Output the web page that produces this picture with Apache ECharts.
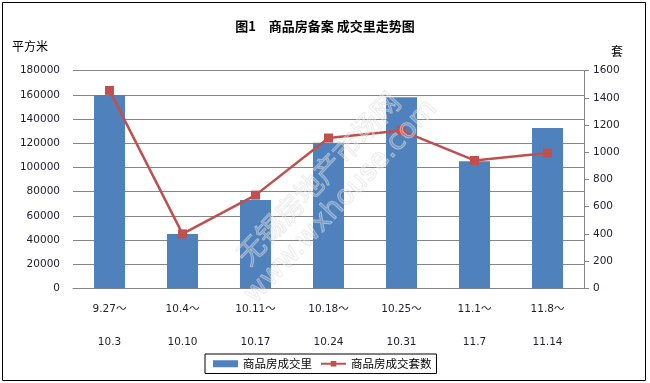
<!DOCTYPE html>
<html>
<head>
<meta charset="utf-8">
<script src="https://cdn.jsdelivr.net/npm/echarts@6/dist/echarts.min.js"></script>
<style>
html,body{margin:0;padding:0;background:#fff;}
#chart{width:650px;height:383px;}
</style>
</head>
<body>
<div id="chart"></div>
<script>
var categories = ['9.27～\n10.3', '10.4～\n10.10', '10.11～\n10.17', '10.18～\n10.24', '10.25～\n10.31', '11.1～\n11.7', '11.8～\n11.14'];
var areaValues = [160000, 45000, 73000, 120500, 158000, 105000, 132500];
var unitValues = [1455, 400, 685, 1105, 1160, 940, 995];
var leftTicks = { min: 0, max: 180000, interval: 20000 };
var rightTicks = { min: 0, max: 1600, interval: 200 };
var seriesNames = ['商品房成交里', '商品房成交套数'];
var titleText = '图1　商品房备案 成交里走势图';
var leftUnit = '平方米';
var rightUnit = '套';
var watermark1 = '无锡房地产市场网';
var watermark2 = 'www.wxhouse.com';

var latin = '"DejaVu Sans", "Noto Sans CJK SC", sans-serif';
var cjk = '"Noto Sans CJK SC", sans-serif';
var labelColor = '#1e1e2e';
var ang = Math.PI / 4 * 1.04;
function plain(v) { return String(v); }

var chart = echarts.init(document.getElementById('chart'), null, { renderer: 'canvas' });
chart.setOption({
  backgroundColor: '#fff',
  animation: false,
  title: {
    text: titleText,
    left: 'center',
    top: 15,
    textStyle: { fontFamily: cjk, fontSize: 13, fontWeight: 'bold', color: '#000' }
  },
  legend: {
    left: 205,
    top: 354,
    padding: [4, 5, 4, 8],
    itemGap: 8,
    itemWidth: 25,
    itemHeight: 7,
    borderColor: '#000',
    borderWidth: 1,
    textStyle: { fontFamily: cjk, fontSize: 11.5, color: '#000' },
    data: [{ name: seriesNames[0], icon: 'rect' }, { name: seriesNames[1] }]
  },
  grid: { left: 73, right: 66, top: 70.7, bottom: 94.7, containLabel: false },
  xAxis: {
    type: 'category',
    data: categories,
    axisLine: { show: true, lineStyle: { color: '#868686', width: 1 } },
    axisTick: { show: false },
    axisLabel: { margin: 4, lineHeight: 33, fontFamily: latin, fontSize: 10.5, color: labelColor, interval: 0 }
  },
  yAxis: [
    {
      type: 'value',
      min: leftTicks.min, max: leftTicks.max, interval: leftTicks.interval,
      position: 'left',
      axisLine: { show: false },
      axisTick: { show: false },
      axisLabel: { margin: 13, fontFamily: latin, fontSize: 10.5, color: labelColor, formatter: plain },
      splitLine: { show: true, lineStyle: { color: '#868686', width: 1 } }
    },
    {
      type: 'value',
      min: rightTicks.min, max: rightTicks.max, interval: rightTicks.interval,
      position: 'right',
      axisLine: { show: true, lineStyle: { color: '#868686', width: 1 } },
      axisTick: { show: true, inside: false, length: 5, lineStyle: { color: '#868686' } },
      axisLabel: { margin: 9, fontFamily: latin, fontSize: 10.5, color: labelColor, formatter: plain },
      splitLine: { show: false }
    }
  ],
  series: [
    {
      name: seriesNames[0],
      type: 'bar',
      yAxisIndex: 0,
      data: areaValues,
      barWidth: 31,
      itemStyle: { color: '#4f81bd' }
    },
    {
      name: seriesNames[1],
      type: 'line',
      yAxisIndex: 1,
      data: unitValues,
      symbol: 'rect',
      symbolSize: 9,
      lineStyle: { color: '#c0504d', width: 2.5 },
      itemStyle: { color: '#c0504d' },
      z: 3
    }
  ],
  graphic: [
    {
      type: 'rect', silent: true, z: 100,
      shape: { x: 2.5, y: 2.5, width: 643, height: 378 },
      style: { fill: 'none', stroke: '#000', lineWidth: 1 }
    },
    {
      type: 'text', left: 12, top: 40,
      style: { text: leftUnit, font: '12px ' + cjk, fill: '#000' }
    },
    {
      type: 'text', left: 611, top: 45,
      style: { text: rightUnit, font: '12px ' + cjk, fill: '#000' }
    },
    {
      type: 'text', x: 318, y: 178, rotation: ang, z: 50, silent: true,
      style: { text: watermark1, font: '28px ' + cjk, fill: 'rgba(255,255,255,0.2)', stroke: 'rgba(215,215,215,0.55)', lineWidth: 1, align: 'center', verticalAlign: 'middle' }
    },
    {
      type: 'text', x: 341, y: 202, rotation: ang, z: 50, silent: true,
      style: { text: watermark2, font: '28px ' + latin, fill: 'rgba(255,255,255,0.2)', stroke: 'rgba(215,215,215,0.55)', lineWidth: 1, align: 'center', verticalAlign: 'middle' }
    }
  ]
});
</script>
</body>
</html>
